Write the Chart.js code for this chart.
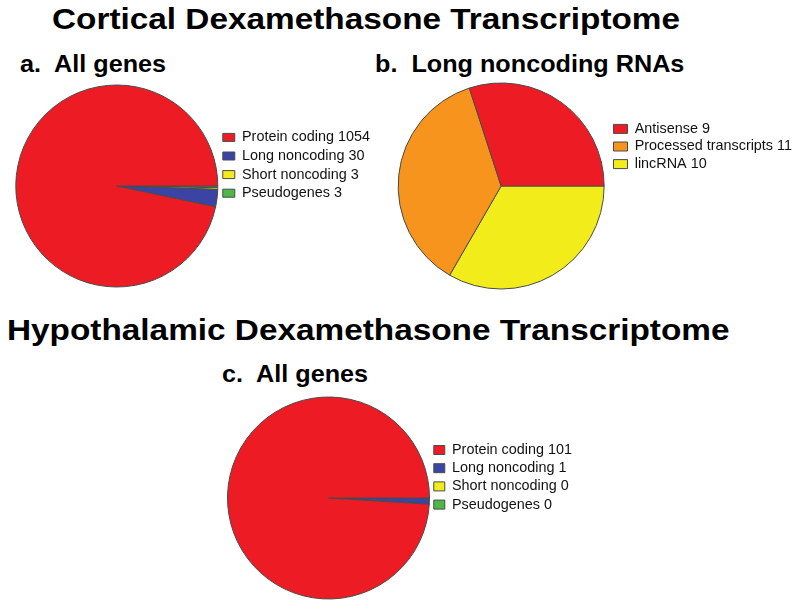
<!DOCTYPE html>
<html>
<head>
<meta charset="utf-8">
<script src="https://cdn.jsdelivr.net/npm/chart.js@4/dist/chart.umd.min.js"></script>
<style>
body{margin:0;width:800px;height:611px;background:#fff;position:relative;overflow:hidden;font-family:'Liberation Sans',Arial,sans-serif}
.h{position:absolute;font-weight:700;color:#000;white-space:nowrap;line-height:1;transform-origin:0 0}
.big{font-size:29.5px;transform:scaleX(1.13)}
.sub{font-size:24px;transform:scaleX(1.05)}
.box{position:absolute;height:212px}
</style>
</head>
<body>
<div class="h big" style="left:52px;top:4px">Cortical Dexamethasone Transcriptome</div>
<div class="h sub" style="left:20px;top:52px">a.&nbsp; All genes</div>
<div class="h sub" style="left:375px;top:52px">b.&nbsp; Long noncoding RNAs</div>
<div class="h big" style="left:7px;top:315px">Hypothalamic Dexamethasone Transcriptome</div>
<div class="h sub" style="left:222px;top:362px">c.&nbsp; All genes</div>

<div class="box" style="left:15px;top:80px;width:365px"><canvas id="pieA"></canvas></div>
<div class="box" style="left:392px;top:80px;width:410px"><canvas id="pieB"></canvas></div>
<div class="box" style="left:227px;top:392px;width:355px"><canvas id="pieC"></canvas></div>

<script>
const RED='#ED1C24', BLUE='#3A44A4', YELLOW='#F2EC1A', GREEN='#4CB848', ORANGE='#F7941D', EDGE='#4a4a4a';

const geneTypes = ['Protein coding','Long noncoding','Short noncoding','Pseudogenes'];
const geneColors = [RED, BLUE, YELLOW, GREEN];
const corticalAll = [1054, 30, 3, 3];
const hypoAll = [101, 1, 0, 0];

const lncTypes = ['Antisense','Processed transcripts','lincRNA'];
const lncColors = [RED, ORANGE, YELLOW];
const corticalLnc = [9, 11, 10];

// the original lays slices counter-clockwise from 3 o'clock; chart.js goes clockwise,
// so feed the slices reversed and flip the legend back
function pie(id, names, values, colors, o){
  const labels = names.map((n,i)=>n+' '+values[i]);
  new Chart(document.getElementById(id), {
    type:'pie',
    data:{labels:[...labels].reverse(), datasets:[{
      data:[...values].reverse(), backgroundColor:[...colors].reverse(),
      borderColor:EDGE, borderWidth:1
    }]},
    options:{
      responsive:true, maintainAspectRatio:false, animation:false, events:[],
      rotation:90, radius:o.r,
      plugins:{
        tooltip:{enabled:false},
        legend:{position:'right', align:'start', reverse:true,
          title:{display:true, text:' ', color:'rgba(0,0,0,0)', font:{size:10,lineHeight:1}, padding:{top:o.drop-10,bottom:0}},
          labels:{boxWidth:o.bw, boxHeight:o.bh, padding:o.pad, color:'#111',
            font:{family:"'Liberation Sans', Arial, sans-serif", size:14.4}}}
      }
    }
  });
}

pie('pieA', geneTypes, corticalAll, geneColors, {r:101, bw:12, bh:8, pad:4.2, drop:46});
pie('pieB', lncTypes, corticalLnc, lncColors, {r:103, bw:14, bh:9, pad:3.2, drop:38.5});
pie('pieC', geneTypes, hypoAll, geneColors, {r:101, bw:11, bh:9, pad:3.8, drop:47});
</script>
</body>
</html>
